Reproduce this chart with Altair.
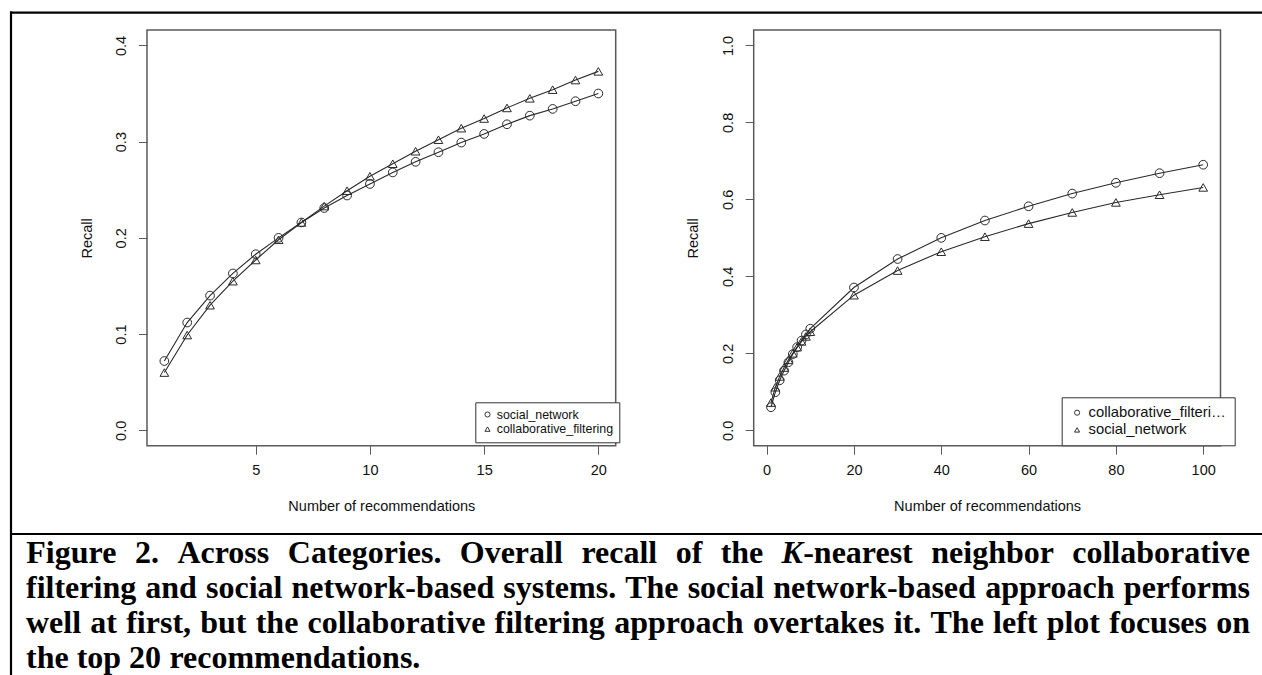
import altair as alt
import pandas as pd

# ---------------- data ----------------
k_left = list(range(1, 21))
sn_left = [0.072, 0.112, 0.140, 0.163, 0.183, 0.200, 0.216, 0.231, 0.244, 0.256,
           0.268, 0.279, 0.289, 0.299, 0.308, 0.318, 0.327, 0.334, 0.342, 0.350]
cf_left = [0.060, 0.099, 0.130, 0.155, 0.177, 0.198, 0.216, 0.233, 0.249, 0.264,
           0.277, 0.290, 0.302, 0.314, 0.324, 0.335, 0.345, 0.354, 0.364, 0.373]

k_right = list(range(1, 11)) + [20, 30, 40, 50, 60, 70, 80, 90, 100]
cf_right = cf_left[:10] + [0.371, 0.445, 0.500, 0.545, 0.582, 0.615, 0.643, 0.668, 0.690]
sn_right = sn_left[:10] + [0.351, 0.415, 0.464, 0.503, 0.537, 0.566, 0.592, 0.612, 0.631]

series_left = ["social_network", "collaborative_filtering"]
series_right = ["collaborative_filtering", "social_network"]

x_ticks_left = [5, 10, 15, 20]
y_ticks_left = [0.0, 0.1, 0.2, 0.3, 0.4]
x_ticks_right = [0, 20, 40, 60, 80, 100]
y_ticks_right = [0.0, 0.2, 0.4, 0.6, 0.8, 1.0]

x_title = "Number of recommendations"
y_title = "Recall"

caption_lines = [
    "Figure 2. Across Categories. Overall recall of the K-nearest neighbor collaborative",
    "filtering and social network-based systems. The social network-based approach performs",
    "well at first, but the collaborative filtering approach overtakes it. The left plot focuses on",
    "the top 20 recommendations.",
]
italic_prefix = "K"

# ---------------- layout ----------------
W, H = 1262, 675
TOP, BOTTOM = 30.0, 445.7
LEFT_BOX = (147.0, 615.7)
RIGHT_BOX = (753.7, 1220.5)
SANS = "Liberation Sans"
AXIS_FS = 14.5
LINE_COLOR = "#2a2a2a"
BOX_COLOR = "#5a5a5a"


def r_domain(lo, hi):
    d = (hi - lo) * 0.04
    return [lo - d, hi + d]


def panel(k, vals, names, xlim, ylim, xbox, xt, yt, legend_kw):
    rows = []
    for name, v in zip(names, vals):
        for kk, vv in zip(k, v):
            rows.append({"k": kk, "recall": vv, "series": name})
    df = pd.DataFrame(rows)
    xs = alt.Scale(domain=r_domain(*xlim), range=[xbox[0], xbox[1]], nice=False, zero=False)
    ys = alt.Scale(domain=r_domain(*ylim), range=[BOTTOM, TOP], nice=False, zero=False)
    xaxis = alt.Axis(
        orient="bottom", offset=BOTTOM - H, values=xt, format="d", domain=False, grid=False,
        tickSize=8.5, tickColor=BOX_COLOR, tickWidth=1, labelFont=SANS, labelFontSize=AXIS_FS,
        labelColor="#111", labelPadding=16.5, labelBaseline="middle", labelAlign="center",
        labelFlush=False, labelOverlap=False, title=x_title, titleFont=SANS,
        titleFontSize=AXIS_FS, titleFontWeight="normal", titleColor="#111",
        titleX=(xbox[0] + xbox[1]) / 2, titleY=61, titleAlign="center", titleBaseline="middle",
    )
    yaxis = alt.Axis(
        orient="left", offset=-xbox[0], values=yt, format=".1f", domain=False, grid=False,
        tickSize=8.5, tickColor=BOX_COLOR, tickWidth=1, labelFont=SANS, labelFontSize=AXIS_FS,
        labelColor="#111", labelPadding=16.8, labelAngle=270, labelAlign="center",
        labelBaseline="middle", labelFlush=False, labelOverlap=False, title=y_title,
        titleFont=SANS, titleFontSize=AXIS_FS, titleFontWeight="normal", titleColor="#111",
        titleAngle=270, titleX=-60, titleY=(TOP + BOTTOM) / 2, titleAlign="center",
        titleBaseline="middle",
    )
    base = alt.Chart(df)
    box = alt.Chart(pd.DataFrame({"a": [0]})).mark_rect(
        fill=None, stroke=BOX_COLOR, strokeWidth=1.5
    ).encode(x=alt.value(xbox[0]), x2=alt.value(xbox[1]), y=alt.value(TOP), y2=alt.value(BOTTOM))
    lines = base.mark_line(color=LINE_COLOR, strokeWidth=1.1).encode(
        x=alt.X("k:Q", scale=xs, axis=xaxis),
        y=alt.Y("recall:Q", scale=ys, axis=yaxis),
        detail="series:N",
        order="k:Q",
    )
    pts = base.mark_point(filled=False, size=76, color=LINE_COLOR, strokeWidth=1, opacity=1).encode(
        x=alt.X("k:Q", scale=xs, axis=xaxis),
        y=alt.Y("recall:Q", scale=ys, axis=yaxis),
        shape=alt.Shape("series:N", scale=alt.Scale(domain=names, range=["circle", "triangle-up"]),
                        legend=alt.Legend(**legend_kw)),
    )
    return alt.layer(box, lines, pts)


legend_common = dict(orient="none", title=None, strokeColor="#333", fillColor="white",
                     labelFont=SANS, labelColor="#111", symbolSize=26, symbolStrokeWidth=1,
                     symbolStrokeColor="#333", cornerRadius=0)

left = panel(k_left, [sn_left, cf_left], series_left, (1, 20), (0, 0.4), LEFT_BOX,
             x_ticks_left, y_ticks_left,
             dict(legend_common, legendX=475.3, legendY=402.3, padding=6, labelFontSize=12.4,
                  labelOffset=3, rowPadding=1.6))
right = panel(k_right, [cf_right, sn_right], series_right, (1, 100), (0, 1.0), RIGHT_BOX,
              x_ticks_right, y_ticks_right,
              dict(legend_common, legendX=1061.7, legendY=397.3, padding=8, labelFontSize=14.8,
                   labelOffset=4, rowPadding=1.2, labelLimit=139))

# ---------------- frame rules ----------------
dummy = pd.DataFrame({"a": [0]})
frame_top = alt.Chart(dummy).mark_rule(color="black", strokeWidth=2.2).encode(
    x=alt.value(10), x2=alt.value(W), y=alt.value(12.7), y2=alt.value(12.7))
frame_left = alt.Chart(dummy).mark_rule(color="black", strokeWidth=2.2).encode(
    x=alt.value(11), x2=alt.value(11), y=alt.value(11.6), y2=alt.value(H))
frame_mid = alt.Chart(dummy).mark_rule(color="black", strokeWidth=2.2).encode(
    x=alt.value(10), x2=alt.value(W), y=alt.value(534), y2=alt.value(534))

# ---------------- caption (justified, Times-Bold metrics) ----------------
TB = {" ": 250, ",": 250, "-": 333, ".": 250,
      "A": 722, "B": 667, "C": 722, "D": 722, "E": 667, "F": 611, "G": 778, "H": 778, "I": 389,
      "J": 500, "K": 778, "L": 667, "M": 944, "N": 722, "O": 778, "P": 611, "Q": 778, "R": 722,
      "S": 556, "T": 667, "U": 722, "V": 722, "W": 1000, "X": 722, "Y": 722, "Z": 667,
      "a": 500, "b": 556, "c": 444, "d": 556, "e": 444, "f": 333, "g": 500, "h": 556, "i": 278,
      "j": 333, "k": 556, "l": 278, "m": 833, "n": 556, "o": 500, "p": 556, "q": 556, "r": 444,
      "s": 389, "t": 333, "u": 556, "v": 500, "w": 722, "x": 500, "y": 500, "z": 444}
ITALIC_K = 667
CAP_FS = 32
CAP_X0, CAP_X1 = 26.0, 1250.0
CAP_BASE = [562.5, 597.5, 632.5, 667.5]


def seg_width(s, italic=False):
    if italic:
        return ITALIC_K * CAP_FS / 1000.0
    return sum(TB.get(c, 500) for c in s) * CAP_FS / 1000.0


cap_rows = []
for li, line in enumerate(caption_lines):
    words = line.split(" ")
    wsegs = []
    for w in words:
        if w.startswith(italic_prefix + "-"):
            wsegs.append([(italic_prefix, True), (w[len(italic_prefix):], False)])
        else:
            wsegs.append([(w, False)])
    widths = [sum(seg_width(s, it) for s, it in ws) for ws in wsegs]
    if li < len(caption_lines) - 1:
        gap = (CAP_X1 - CAP_X0 - sum(widths)) / (len(words) - 1)
    else:
        gap = TB[" "] * CAP_FS / 1000.0
    x = CAP_X0
    for ws, ww in zip(wsegs, widths):
        sx = x
        for s, it in ws:
            sw = seg_width(s, it)
            cap_rows.append({"word": s, "cx": sx + sw / 2, "by": CAP_BASE[li], "italic": it})
            sx += sw
        x += ww + gap
cap_df = pd.DataFrame(cap_rows)

cap_base = alt.Chart(cap_df).encode(
    x=alt.X("cx:Q", scale=None, axis=None),
    y=alt.Y("by:Q", scale=None, axis=None),
    text="word:N",
)
cap_normal = cap_base.transform_filter("!datum.italic").mark_text(
    font="Liberation Serif", fontSize=CAP_FS, fontWeight="bold", align="center",
    baseline="alphabetic", color="black")
cap_italic = cap_base.transform_filter("datum.italic").mark_text(
    font="Liberation Serif", fontSize=CAP_FS, fontWeight="bold", fontStyle="italic",
    align="center", baseline="alphabetic", color="black")

chart = alt.layer(
    left, right, frame_top, frame_left, frame_mid, cap_normal, cap_italic
).resolve_scale(
    x="independent", y="independent", shape="independent"
).properties(
    width=W, height=H, autosize=alt.AutoSizeParams(type="none"), padding=0, background="white"
).configure_view(stroke=None)

chart.save("out.html", embed_options={"renderer": "svg", "actions": False})
